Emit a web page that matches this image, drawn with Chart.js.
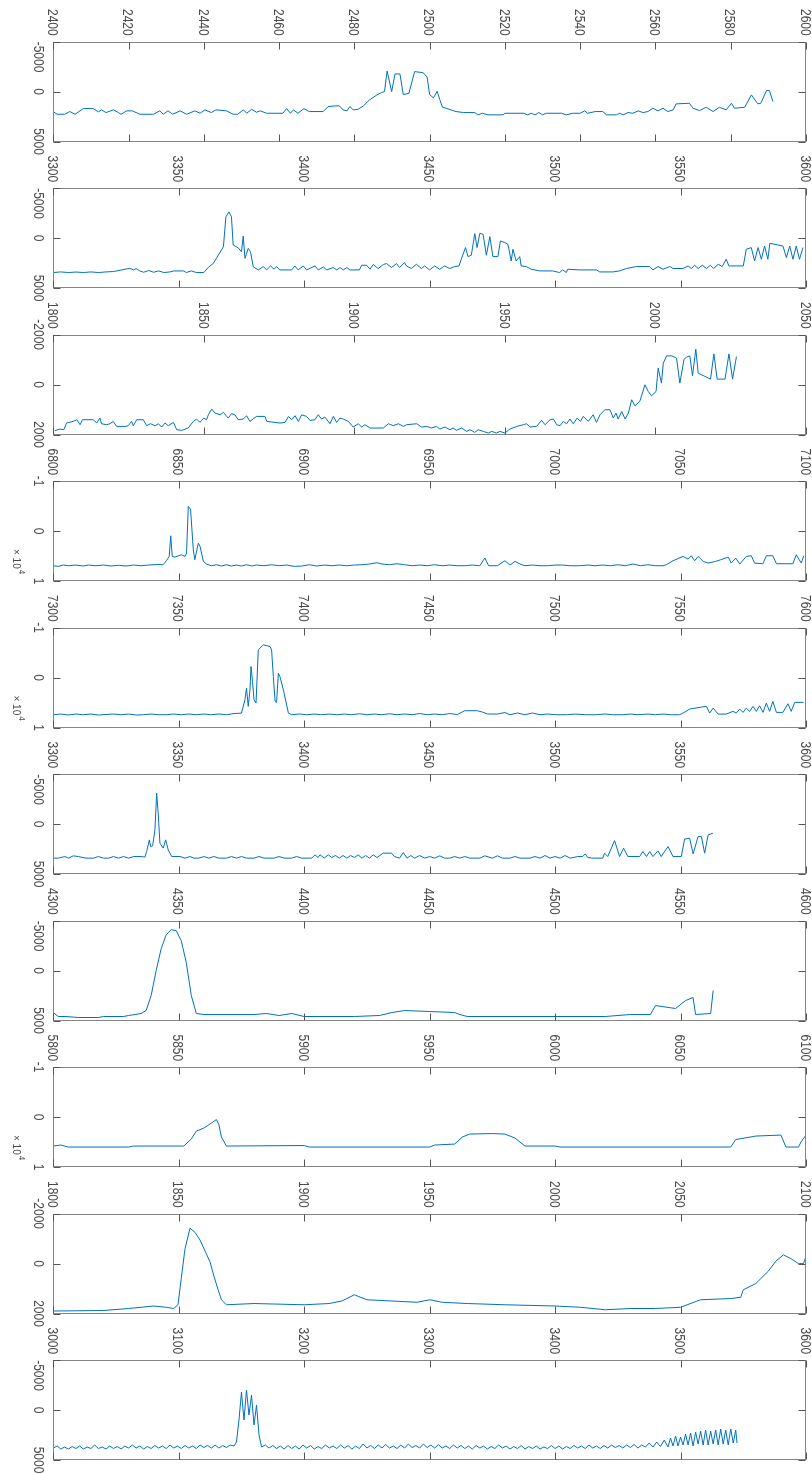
<!DOCTYPE html>
<html>
<head>
<meta charset="utf-8">
<script src="https://cdn.jsdelivr.net/npm/chart.js@4.4.1/dist/chart.umd.min.js"></script>
<style>
  body { margin: 0; background: #fff; }
  #wrap { position: relative; width: 812px; height: 1474px; overflow: hidden; }
  #wrap canvas { position: absolute; left: 0; }
</style>
</head>
<body>
<div id="wrap"></div>
<script>
// ---- data: [x, value] pairs per panel ----
const trace1 = [[2400,2000],[2401,2270],[2403,2270],[2404.4,2000],[2405.8,2270],[2408,1700],[2410.6,1700],[2412,2030],[2412.8,1830],[2414,2100],[2416,1830],[2417.3,2100],[2418,2270],[2419.5,1930],[2421,1930],[2423,2270],[2426.6,2270],[2428.3,1930],[2429.2,2270],[2430.5,1930],[2431.7,2270],[2433.7,1930],[2435.4,2270],[2437.6,1930],[2439,2170],[2440.3,1830],[2442,2100],[2443.2,1830],[2446,1930],[2447.8,2270],[2449,2270],[2450.5,1830],[2451.4,2170],[2452.7,1770],[2454,2070],[2455,1930],[2456.7,2170],[2461,2170],[2462,1700],[2463,2170],[2463.8,1830],[2465,2170],[2466.6,1700],[2468,2000],[2471.7,2000],[2473,1500],[2475,1430],[2476,1430],[2477,1830],[2478,1930],[2478.8,1500],[2479.7,1830],[2481,1770],[2482.4,1430],[2484,830],[2486,330],[2487.2,100],[2488,0],[2488.7,-2070],[2489.9,0],[2490.8,-1770],[2492.1,-1770],[2493,300],[2494.5,170],[2496,-2000],[2498.2,-1900],[2499.3,-1500],[2500,300],[2501,630],[2502,-30],[2502.7,800],[2503.4,1570],[2504.4,1670],[2507,2000],[2509,2100],[2512,2100],[2512.8,2330],[2514,2170],[2515.5,2330],[2519.5,2330],[2520,2170],[2525,2170],[2526,2330],[2527,2170],[2528,2330],[2529,2100],[2530,2330],[2531,2170],[2535,2170],[2536.3,2330],[2538,2170],[2540,2170],[2541.2,1930],[2542,2170],[2544,2000],[2546,2000],[2547,2330],[2549.6,2330],[2550.5,2170],[2551.4,2330],[2552.7,2100],[2554,2170],[2555.4,1930],[2556.7,2100],[2558,2000],[2559.3,1670],[2560.7,1930],[2562,1670],[2563.3,2000],[2564.7,1830],[2565.5,1230],[2569,1170],[2570,1670],[2571.7,1900],[2573.5,1570],[2575.3,2000],[2577,1570],[2578.8,1830],[2580.2,1170],[2581,1670],[2583.7,1570],[2585.5,330],[2587.2,1230],[2588,1170],[2589.5,-100],[2590.3,-100],[2591.2,1000]];

const trace2 = [[3300,3450],[3303,3390],[3306,3450],[3309,3400],[3312,3450],[3315,3390],[3318,3450],[3321,3390],[3324,3350],[3327,3200],[3329,3100],[3330.5,3030],[3332,3190],[3333,3050],[3334.5,3290],[3336,3420],[3338,3250],[3340,3420],[3342,3290],[3344,3450],[3346.5,3390],[3348,3290],[3352,3290],[3353,3450],[3355,3290],[3357,3450],[3360,3450],[3361.8,2930],[3363.8,2530],[3365.8,1700],[3367.8,870],[3368.8,-2130],[3370,-2630],[3371,-2130],[3371.7,700],[3373.7,970],[3375,1370],[3375.7,-200],[3376.4,2030],[3377.7,1030],[3378.6,1370],[3379.7,2870],[3381.7,3190],[3383.7,2850],[3385,3190],[3386.6,2790],[3388,3120],[3389,2850],[3390.3,3190],[3395,3190],[3396.3,2790],[3397.6,3190],[3399.6,2790],[3401,3190],[3404.3,2790],[3405.6,3190],[3407.6,2890],[3409,3190],[3411.6,2950],[3413,3190],[3414.3,2950],[3415.6,3190],[3417,2950],[3418.2,3190],[3422,3190],[3422.9,2720],[3424.9,2720],[3426.2,3120],[3427.5,2650],[3429.5,3050],[3431.5,2650],[3432.8,2550],[3434.8,2950],[3436.8,2550],[3438,2950],[3440,2450],[3440.7,2790],[3442.7,3050],[3444.7,2620],[3446.7,3050],[3448,2790],[3450,3190],[3452,2790],[3454,3120],[3456,2790],[3458,3050],[3460,2850],[3461.7,2790],[3462.6,2120],[3464.3,950],[3465.3,1850],[3466.6,1720],[3468,-450],[3468.9,950],[3470,-480],[3471.3,-380],[3472.6,1720],[3474,-150],[3475.2,1850],[3477.2,1850],[3478.2,290],[3480,450],[3481.2,620],[3482.5,2290],[3483.2,1120],[3484.5,2290],[3485.9,1850],[3486.5,2790],[3488.5,2850],[3490.5,3120],[3493.8,3290],[3499,3290],[3501.8,3450],[3503,3190],[3504.5,3450],[3505,3120],[3510,3190],[3516.5,3190],[3517.8,3390],[3523,3390],[3525.7,3290],[3528.4,3050],[3532.4,2850],[3537.7,2850],[3539,3190],[3541,2850],[3543,3120],[3545.7,2850],[3547,3050],[3551,3050],[3553,2790],[3554.3,3050],[3555.6,2720],[3557,3050],[3558.7,2720],[3560.3,3050],[3561.9,2720],[3563.2,3050],[3565,2620],[3566.6,2850],[3568.2,2120],[3569.3,2790],[3575,2790],[3576.2,1120],[3578.2,950],[3579.5,2290],[3580.9,950],[3582.2,2120],[3583.5,790],[3584.8,2120],[3585.6,520],[3590.8,790],[3592.2,1950],[3593.5,790],[3594.8,2120],[3596.1,790],[3597.4,2120],[3598.8,950]];

const trace3 = [[1800.5,1848],[1802.2,1781],[1803.5,1808],[1804.4,1541],[1806.6,1475],[1807.8,1408],[1808.9,1608],[1809.7,1408],[1813.3,1408],[1814.4,1541],[1815.5,1341],[1816,1568],[1817.7,1608],[1818.8,1568],[1819.9,1475],[1821,1675],[1823.8,1675],[1824.9,1648],[1826,1475],[1826.6,1648],[1827.7,1408],[1829.9,1408],[1831,1648],[1832.3,1568],[1833.8,1648],[1834.9,1568],[1836,1701],[1837.1,1541],[1838.2,1648],[1839.9,1515],[1841,1808],[1842.6,1835],[1844.8,1741],[1846.5,1475],[1847.6,1381],[1848.7,1515],[1850,1341],[1850.9,1408],[1851.5,1208],[1852.6,981],[1853.7,1141],[1855.4,1208],[1856.5,1115],[1858.1,1341],[1859.2,1168],[1860.3,1208],[1861.4,1408],[1863.1,1381],[1864.2,1248],[1865.3,1475],[1867.5,1275],[1870.3,1275],[1870.9,1475],[1875.3,1541],[1877,1515],[1878.1,1275],[1879.2,1408],[1880.3,1248],[1881.4,1475],[1882.5,1208],[1884.1,1275],[1885.3,1435],[1886.9,1408],[1888,1208],[1889.1,1381],[1890.2,1301],[1891.9,1568],[1893,1275],[1894.1,1515],[1895.2,1341],[1896.3,1381],[1898,1475],[1899.6,1701],[1901.3,1568],[1902.4,1701],[1903.5,1608],[1905.2,1741],[1909.6,1741],[1911.3,1568],[1912.9,1648],[1914.6,1568],[1916.3,1675],[1917.3,1608],[1920.7,1568],[1922.3,1701],[1924,1675],[1925.6,1741],[1927.3,1675],[1928.4,1781],[1930.1,1701],[1931.7,1808],[1932.8,1741],[1933.9,1835],[1935.6,1741],[1937.3,1875],[1938.4,1808],[1940,1915],[1941.1,1808],[1942.8,1875],[1944.5,1941],[1945.6,1875],[1947.2,1941],[1948.3,1875],[1950,1941],[1951.7,1781],[1953.9,1675],[1956.1,1608],[1957.2,1568],[1958.3,1701],[1960.5,1675],[1962.2,1435],[1963.3,1608],[1965,1408],[1966.1,1381],[1967.2,1608],[1968.3,1648],[1969.4,1475],[1970.5,1568],[1971.6,1381],[1972.7,1568],[1974,1341],[1975.1,1475],[1976,1275],[1977.7,1475],[1979.3,1208],[1980.4,1515],[1981.6,1208],[1983.2,1008],[1984.9,1008],[1986,1341],[1986.9,1141],[1987.6,1381],[1988.8,1075],[1989.9,1381],[1991,1141],[1992.1,608],[1993.2,848],[1994.8,675],[1996.5,8],[1997.6,275],[1998.7,448],[2000.2,275],[2000.9,-659],[2002,-59],[2002.6,-859],[2003.7,-1152],[2005.4,-1152],[2007,-1059],[2008.1,-59],[2009.5,-1019],[2010.3,-1099],[2011.4,-1152],[2012.3,-352],[2013.4,-1419],[2014.2,-459],[2018.3,-219],[2019.4,-1232],[2020.5,-219],[2023.1,-219],[2024.4,-1232],[2025.6,-219],[2026.9,-1125]];

const trace4 = [[6800,6940],[6802,7070],[6804,6800],[6806,6940],[6809,6800],[6812,7000],[6814,6800],[6817,6940],[6820,6800],[6823,7000],[6826,6850],[6829,7000],[6832,6800],[6835,6940],[6838,6800],[6841,6700],[6843.8,6740],[6845.2,5870],[6846.2,5070],[6846.8,940],[6847.4,5070],[6848.5,5200],[6851.1,4740],[6852.5,5070],[6853.1,4410],[6853.8,-4940],[6854.7,-4410],[6855.8,3740],[6856.4,5740],[6857.8,2410],[6858.5,3070],[6859.8,6070],[6861.1,6610],[6863,6940],[6865,6740],[6867,7000],[6869,6740],[6871,7000],[6873,6800],[6875,7000],[6877,6740],[6879,7000],[6881,6800],[6884,6940],[6887,6740],[6890,6940],[6893,6800],[6896,7070],[6899,7000],[6902,6740],[6905,7000],[6908,6800],[6911,6940],[6914,6800],[6917,6940],[6920,6800],[6923,6740],[6926,6600],[6929,6330],[6931,6600],[6934,6740],[6937,6540],[6940,6740],[6943,6940],[6946,6800],[6949,6940],[6952,6740],[6955,6940],[6958,6800],[6961,6940],[6964,6940],[6967,6800],[6970,6940],[6972,5400],[6973.5,6940],[6977,6940],[6980,5940],[6982,6800],[6984,6070],[6986,6600],[6988,6940],[6991,6800],[6994,6940],[6997,6940],[7000,6800],[7003,6800],[7006,6940],[7010,6940],[7013,6800],[7016,6940],[7019,6800],[7022,6940],[7025,6740],[7028,6940],[7031,6600],[7034,6940],[7037,6740],[7040,6940],[7043,6940],[7044.3,6740],[7047,5940],[7051,5070],[7053,5610],[7054.3,4940],[7055.6,5940],[7057,5070],[7059,6070],[7061,6410],[7064,6070],[7066,5740],[7069,5210],[7070.2,6410],[7072,5410],[7073.6,6610],[7076.2,5070],[7078.2,4940],[7079.5,6410],[7082.8,6540],[7084.2,4940],[7086.8,4940],[7088.2,6540],[7094.8,6540],[7096.1,4740],[7098.1,6410],[7099.1,4940]];

const trace5 = [[7300,7440],[7303,7300],[7306,7500],[7309,7300],[7312,7440],[7315,7300],[7318,7500],[7321,7400],[7324,7300],[7327,7440],[7330,7300],[7333,7500],[7336,7440],[7339,7300],[7342,7440],[7345,7440],[7348,7300],[7351,7440],[7354,7300],[7357,7440],[7360,7300],[7363,7440],[7366,7300],[7369,7440],[7372,7200],[7375,7110],[7376.4,4440],[7377,2110],[7377.7,5770],[7378.4,2440],[7378.8,-2230],[7379.4,770],[7380,4440],[7380.8,5110],[7381.7,-5560],[7383.7,-6560],[7386.4,-6230],[7387,-5560],[7387.7,-230],[7388.4,4770],[7389,4970],[7389.7,-890],[7390.3,-230],[7391.7,2440],[7393.7,7110],[7395,7440],[7398,7300],[7401,7440],[7404,7300],[7407,7440],[7410,7300],[7413,7440],[7416,7300],[7419,7440],[7422,7240],[7425,7440],[7428,7300],[7431,7440],[7434,7240],[7437,7440],[7440,7300],[7443,7440],[7446,7200],[7449,7440],[7452,7300],[7455,7440],[7458,7200],[7461,7400],[7464,6640],[7469,6640],[7471,6900],[7473,7300],[7477,7300],[7480,7000],[7482,7440],[7485,7100],[7488,7440],[7491,7100],[7494,7440],[7497,7300],[7500,7440],[7505,7440],[7508,7300],[7512,7440],[7516,7440],[7520,7300],[7523,7440],[7527,7440],[7530,7300],[7533,7440],[7537,7300],[7540,7440],[7543,7300],[7546,7440],[7549.6,7440],[7551,7110],[7553.6,6310],[7558.3,5910],[7560.3,5770],[7561.6,7110],[7563,6110],[7565,7310],[7568.2,7310],[7570.9,6770],[7572.2,7110],[7573.6,6310],[7574.9,6970],[7576.2,6110],[7577.5,6770],[7578.9,5770],[7580.2,6770],[7581.5,5640],[7582.9,6970],[7584.2,5110],[7585.5,6770],[7586.8,4770],[7588.2,6970],[7590.8,6970],[7592.8,5240],[7594.1,6770],[7595.5,4970],[7599,4970]];

const trace6 = [[3300,3410],[3302,3410],[3304.6,3250],[3306,3410],[3308,3180],[3310,3250],[3313,3410],[3316,3410],[3318,3250],[3320,3410],[3322,3410],[3324,3250],[3326,3410],[3328,3250],[3330,3410],[3332,3250],[3335,3250],[3336.5,3310],[3337.2,2750],[3338.3,1580],[3338.8,2250],[3339.6,2180],[3340.5,580],[3341.2,-3090],[3341.8,-1090],[3342.5,1910],[3343.8,2410],[3344.8,1580],[3345.8,2580],[3347.2,3250],[3350.5,3250],[3352.5,3410],[3354.5,3250],[3356,3410],[3358,3410],[3360,3250],[3362,3410],[3364,3250],[3366,3410],[3369,3410],[3371,3250],[3373,3410],[3375,3250],[3377,3410],[3380,3410],[3382,3250],[3384,3410],[3388,3410],[3390,3250],[3392,3410],[3395,3410],[3397,3250],[3399,3410],[3403,3410],[3404.3,3080],[3405.5,3350],[3406.3,3080],[3408,3410],[3409.6,3080],[3411,3350],[3412.5,3150],[3414,3410],[3415.5,3150],[3417,3410],[3418.5,3150],[3420,3350],[3421.5,3080],[3423,3410],[3424.5,3150],[3426,3410],[3427.5,3080],[3429,3350],[3431.5,2910],[3434.8,2910],[3436,3250],[3438,3410],[3439.5,2850],[3441,3410],[3442.5,3150],[3444,3410],[3446,3150],[3448,3410],[3450,3250],[3452,3410],[3454,3180],[3456,3410],[3458,3410],[3460,3250],[3462,3410],[3464,3250],[3466,3410],[3470,3410],[3472,3180],[3475,3410],[3477,3180],[3479,3410],[3482,3410],[3484,3250],[3486,3410],[3490,3410],[3492,3250],[3494,3410],[3496,3150],[3498,3410],[3500,3250],[3502,3410],[3504,3150],[3506,3410],[3509,3250],[3511,3250],[3512,2980],[3513,3350],[3515,3410],[3519,3410],[3519.7,2910],[3521,3250],[3523.7,1650],[3525.7,3250],[3527.3,2410],[3529,3250],[3533.7,3250],[3535,2750],[3536.4,3250],[3537.7,2750],[3539,3250],[3541,2680],[3542.3,3250],[3545,2250],[3547,3250],[3550.3,3250],[3551.6,1510],[3553.6,1410],[3555,2980],[3557,1250],[3558.3,1250],[3559.6,2910],[3561,1080],[3562.9,910]];

const trace7 = [[4300,4200],[4302,4600],[4305,4600],[4310,4700],[4318,4700],[4320,4600],[4328,4600],[4330,4500],[4335,4300],[4337,4000],[4339,2500],[4341,0],[4343,-2200],[4345,-3600],[4347,-4100],[4349,-4000],[4351,-3000],[4353,-800],[4355,2500],[4357,4300],[4360,4400],[4380,4400],[4385,4300],[4390,4500],[4395,4300],[4400,4600],[4420,4600],[4430,4500],[4435,4200],[4440,4000],[4450,4100],[4460,4200],[4462,4400],[4465,4600],[4520,4600],[4530,4400],[4538,4400],[4540,3500],[4548,3800],[4552,3000],[4555,2700],[4556,4400],[4562,4300],[4563,2000]];

const trace8 = [[5800,5800],[5803,5600],[5806,6000],[5830,6000],[5832,5800],[5852,5800],[5855,4400],[5857,2800],[5860,2200],[5863,1200],[5865,500],[5866,1500],[5867,4000],[5869,5800],[5900,5700],[5902,6000],[5950,6000],[5952,5600],[5960,5400],[5963,4000],[5966,3400],[5975,3300],[5980,3400],[5984,4200],[5988,5800],[6000,5800],[6002,6000],[6070,6000],[6072,4500],[6080,3800],[6090,3600],[6092,6000],[6097,6000],[6098,5000],[6100,3600]];

const trace9 = [[1800,1900],[1820,1880],[1830,1800],[1840,1700],[1845,1750],[1848,1800],[1849.7,1650],[1851,600],[1852.5,-600],[1854.5,-1420],[1856.5,-1250],[1858.5,-940],[1860.5,-500],[1862.5,-60],[1864,500],[1865.7,1050],[1867,1450],[1869,1650],[1880,1600],[1900,1650],[1910,1600],[1915,1500],[1920,1250],[1925,1450],[1935,1500],[1945,1550],[1950,1450],[1955,1550],[1965,1600],[1980,1650],[2000,1700],[2010,1750],[2020,1850],[2030,1800],[2040,1800],[2050,1750],[2058,1450],[2070,1400],[2074,1350],[2075,1050],[2080,800],[2085,300],[2088,-100],[2091,-350],[2094,-200],[2097,0],[2099,0],[2100,-300]];

const trace10 = [[3000,3800],[3003,3600],[3006,3900],[3009,3700],[3012,3900],[3015,3650],[3018,3850],[3021,3600],[3024,3900],[3027,3700],[3030,3850],[3033,3500],[3036,3850],[3039,3700],[3042,3900],[3045,3600],[3048,3850],[3051,3650],[3054,3900],[3057,3600],[3060,3800],[3063,3500],[3066,3800],[3069,3600],[3072,3900],[3075,3650],[3078,3850],[3081,3550],[3084,3800],[3087,3600],[3090,3850],[3093,3500],[3096,3800],[3099,3600],[3102,3850],[3105,3550],[3108,3800],[3111,3600],[3114,3850],[3117,3500],[3120,3750],[3123,3550],[3126,3800],[3129,3500],[3132,3800],[3135,3550],[3138,3750],[3141,3500],[3144,3600],[3146,3200],[3148,1000],[3150,-1800],[3152,1000],[3154,-2000],[3156,500],[3158,-1500],[3160,1500],[3162,-500],[3164,2500],[3166,3700],[3169,3500],[3172,3800],[3175,3550],[3178,3850],[3181,3600],[3184,3900],[3187,3550],[3190,3850],[3193,3600],[3196,3900],[3199,3500],[3202,3800],[3205,3550],[3208,3900],[3211,3650],[3214,3850],[3217,3500],[3220,3800],[3223,3600],[3226,3850],[3229,3500],[3232,3800],[3235,3550],[3238,3900],[3241,3600],[3244,3850],[3247,3400],[3250,3800],[3253,3550],[3256,3850],[3259,3500],[3262,3800],[3265,3450],[3268,3800],[3271,3600],[3274,3850],[3277,3500],[3280,3800],[3283,3400],[3286,3750],[3289,3550],[3292,3800],[3295,3400],[3298,3750],[3301,3500],[3304,3800],[3307,3450],[3310,3800],[3313,3600],[3316,3850],[3319,3500],[3322,3800],[3325,3550],[3328,3850],[3331,3600],[3334,3900],[3337,3550],[3340,3800],[3343,3600],[3346,3900],[3349,3650],[3352,3850],[3355,3500],[3358,3800],[3361,3600],[3364,3900],[3367,3650],[3370,3850],[3373,3550],[3376,3900],[3379,3650],[3382,3850],[3385,3600],[3388,3900],[3391,3700],[3394,3850],[3397,3550],[3400,3850],[3403,3600],[3406,3900],[3409,3650],[3412,3850],[3415,3550],[3418,3800],[3421,3600],[3424,3850],[3427,3500],[3430,3800],[3433,3600],[3436,3850],[3439,3550],[3442,3800],[3445,3500],[3448,3750],[3451,3550],[3454,3800],[3457,3500],[3460,3750],[3463,3450],[3466,3800],[3469,3500],[3472,3700],[3475,3300],[3478,3700],[3481,3200],[3484,3650],[3487,3000],[3490,3700],[3492,2800],[3494,3600],[3496,2600],[3498,3600],[3500,2700],[3502,3500],[3504,2400],[3506,3500],[3508,2300],[3510,3600],[3512,2200],[3514,3400],[3516,2100],[3518,3500],[3520,2000],[3522,3500],[3524,2100],[3526,3400],[3528,2000],[3530,3500],[3532,1900],[3534,3400],[3536,2000],[3538,3500],[3540,1900],[3542,3300],[3544,2000],[3545,3300]];

// tick values per panel
const xTicks1 = [2400,2420,2440,2460,2480,2500,2520,2540,2560,2580,2600];
const xTicks2 = [3300,3350,3400,3450,3500,3550,3600];
const xTicks3 = [1800,1850,1900,1950,2000,2050];
const xTicks4 = [6800,6850,6900,6950,7000,7050,7100];
const xTicks5 = [7300,7350,7400,7450,7500,7550,7600];
const xTicks6 = [3300,3350,3400,3450,3500,3550,3600];
const xTicks7 = [4300,4350,4400,4450,4500,4550,4600];
const xTicks8 = [5800,5850,5900,5950,6000,6050,6100];
const xTicks9 = [1800,1850,1900,1950,2000,2050,2100];
const xTicks10 = [3000,3100,3200,3300,3400,3500,3600];
const yTicks5k = [-5000,0,5000];
const yTicks2k = [-2000,0,2000];
const yTicks1e4 = [-10000,0,10000];

const panels = [
  { trace: trace1, xTicks: xTicks1, yTicks: yTicks5k },
  { trace: trace2, xTicks: xTicks2, yTicks: yTicks5k },
  { trace: trace3, xTicks: xTicks3, yTicks: yTicks2k },
  { trace: trace4, xTicks: xTicks4, yTicks: yTicks1e4, exp: 4 },
  { trace: trace5, xTicks: xTicks5, yTicks: yTicks1e4, exp: 4 },
  { trace: trace6, xTicks: xTicks6, yTicks: yTicks5k },
  { trace: trace7, xTicks: xTicks7, yTicks: yTicks5k },
  { trace: trace8, xTicks: xTicks8, yTicks: yTicks1e4, exp: 4 },
  { trace: trace9, xTicks: xTicks9, yTicks: yTicks2k },
  { trace: trace10, xTicks: xTicks10, yTicks: yTicks5k }
];

// ---- look ----
const LINE_COLOR = '#0072BD';
const BOX_COLOR = '#858585';
const TICK_COLOR = '#555555';
const TEXT_COLOR = '#4a4a4a';
const FONT = '12px "Liberation Sans", Arial, sans-serif';
const GLYPH_STRETCH = 1.15;
const PLOT_LEFT = 53.3, PLOT_RIGHT = 806, FIRST_TOP = 41.7, PITCH = 146.5, PLOT_H = 99.8;
const CANVAS_H = 170, TICK_LEN = 7;

function rotText(ctx, text, x, y, align) {
  ctx.save();
  ctx.translate(x, y);
  ctx.rotate(Math.PI / 2);
  ctx.scale(1, GLYPH_STRETCH);
  ctx.textAlign = align;
  ctx.textBaseline = 'middle';
  ctx.fillText(text, 0, 0);
  ctx.restore();
}

function axesPlugin(panel) {
  return {
    id: 'matlabAxes',
    afterDatasetsDraw(chart) {
      const { ctx, chartArea: a, scales: { x, y } } = chart;
      const L = Math.round(a.left) + 0.5, R = Math.round(a.right) - 0.5;
      const T = Math.round(a.top) + 0.5, B = Math.round(a.bottom) - 0.5;
      ctx.save();
      ctx.lineWidth = 1;
      ctx.strokeStyle = BOX_COLOR;
      ctx.strokeRect(L, T, R - L, B - T);

      ctx.strokeStyle = TICK_COLOR;
      ctx.fillStyle = TEXT_COLOR;
      ctx.font = FONT;
      ctx.beginPath();
      panel.xTicks.forEach(v => {
        const px = Math.round(x.getPixelForValue(v)) + 0.5;
        ctx.moveTo(px, T); ctx.lineTo(px, T + TICK_LEN);
        ctx.moveTo(px, B); ctx.lineTo(px, B - TICK_LEN);
      });
      panel.yTicks.forEach(v => {
        const py = Math.round(y.getPixelForValue(v)) + 0.5;
        ctx.moveTo(L, py); ctx.lineTo(L + TICK_LEN, py);
        ctx.moveTo(R, py); ctx.lineTo(R - TICK_LEN, py);
      });
      ctx.stroke();

      panel.xTicks.forEach(v => {
        rotText(ctx, String(v), x.getPixelForValue(v) - 1.5, a.top - 6, 'right');
      });
      panel.yTicks.forEach(v => {
        const label = panel.exp ? String(v / Math.pow(10, panel.exp)) : String(v);
        const py = y.getPixelForValue(v);
        // the leading "-5000" label sits just below its tick in the reference
        const align = label === '-5000' ? 'left' : 'center';
        rotText(ctx, label, 38, py, align);
      });
      if (panel.exp) {
        ctx.save();
        ctx.translate(16, a.bottom - 32);
        ctx.rotate(Math.PI / 2);
        ctx.scale(1, GLYPH_STRETCH);
        ctx.textBaseline = 'middle';
        ctx.textAlign = 'left';
        ctx.font = '10px "Liberation Sans", Arial, sans-serif';
        ctx.fillText('\u00d7 10', 0, 0);
        const w = ctx.measureText('\u00d7 10').width;
        ctx.font = '8px "Liberation Sans", Arial, sans-serif';
        ctx.fillText(String(panel.exp), w + 1, -5);
        ctx.restore();
      }
      ctx.restore();
    }
  };
}

const wrap = document.getElementById('wrap');
panels.forEach((panel, i) => {
  const top = FIRST_TOP + i * PITCH;
  const canvasTop = Math.floor(top) - 41;
  const canvas = document.createElement('canvas');
  canvas.width = 812;
  canvas.height = CANVAS_H;
  canvas.style.top = canvasTop + 'px';
  wrap.appendChild(canvas);

  const xs = panel.xTicks, ys = panel.yTicks;
  new Chart(canvas, {
    type: 'line',
    data: {
      datasets: [{
        data: panel.trace.map(([x, y]) => ({ x, y })),
        borderColor: LINE_COLOR,
        borderWidth: 1,
        pointRadius: 0,
        tension: 0,
        fill: false
      }]
    },
    options: {
      responsive: false,
      animation: false,
      devicePixelRatio: 1,
      layout: {
        padding: {
          left: PLOT_LEFT,
          right: 812 - PLOT_RIGHT,
          top: top - canvasTop,
          bottom: CANVAS_H - (top - canvasTop) - PLOT_H
        }
      },
      plugins: { legend: { display: false }, tooltip: { enabled: false } },
      scales: {
        x: { type: 'linear', min: xs[0], max: xs[xs.length - 1], display: false },
        y: { type: 'linear', min: ys[0], max: ys[ys.length - 1], reverse: true, display: false }
      }
    },
    plugins: [axesPlugin(panel)]
  });
});
</script>
</body>
</html>
